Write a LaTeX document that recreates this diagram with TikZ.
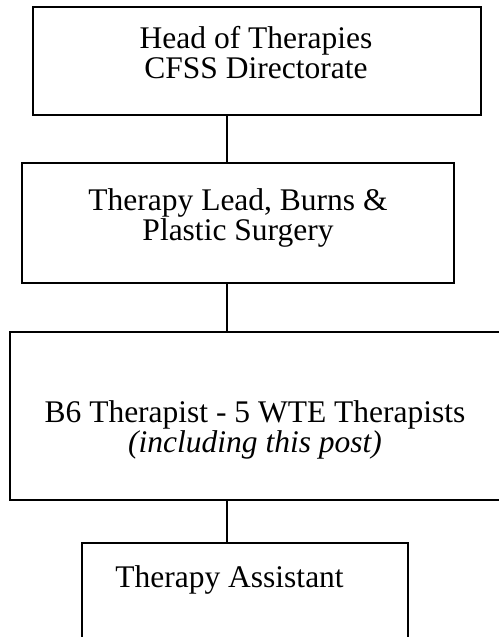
\documentclass[tikz,border=0pt]{standalone}
\usepackage{fontspec}
\setmainfont{Liberation Serif}
\usepackage{tikz}

\begin{document}
\begin{tikzpicture}[x=0.5pt, y=-0.5pt,
  box/.style={draw, line width=1pt, rectangle, inner sep=0pt},
  txt/.style={font=\fontsize{15.75}{15}\selectfont, align=center, inner sep=0pt},
  link/.style={line width=0.7pt}]
\useasboundingbox (0,0) rectangle (498,637);
\node[box, minimum width=224pt, minimum height=54pt] (head) at (257,61) {};
\node[box, minimum width=216pt, minimum height=60pt] (lead) at (238,223) {};
\node[box, minimum width=246pt, minimum height=84pt] (band6) at (256,416) {};
\node[box, minimum width=163pt, minimum height=56pt] (assist) at (245,599) {};
\coordinate (spine) at (227,0);
\node[txt, anchor=base] (headtxt) at (256,78) {Head of Therapies\\CFSS Directorate};
\node[txt, anchor=base] (leadtxt) at (238,240) {Therapy Lead, Burns \&\\Plastic Surgery};
\node[txt, anchor=base] (band6txt) at (255,452) {B6 Therapist - 5 WTE Therapists\\\textit{(including this post)}};
\node[txt, anchor=base west] (assisttxt) at (115,587) {Therapy Assistant};
\draw[link] (head.south -| spine) -- (lead.north -| spine);
\draw[link] (lead.south -| spine) -- (band6.north -| spine);
\draw[link] (band6.south -| spine) -- (assist.north -| spine);
\end{tikzpicture}
\end{document}
